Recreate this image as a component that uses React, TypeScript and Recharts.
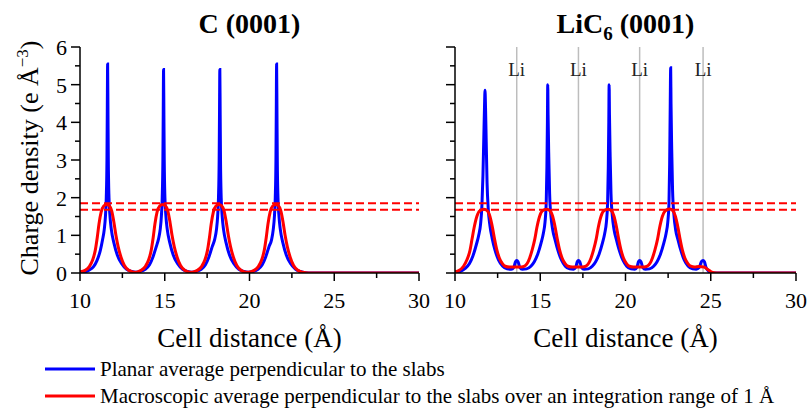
import React from "react";
import { LineChart, Line, XAxis, YAxis, ReferenceLine } from "recharts";

const FONT = '"Liberation Serif", "Times New Roman", serif';

// axis ticks (majors get labels, the rest are minor ticks)
const xTicks = [10, 12.5, 15, 17.5, 20, 22.5, 25, 27.5, 30];
const yTicks = [0, 0.5, 1, 1.5, 2, 2.5, 3, 3.5, 4, 4.5, 5, 5.5, 6];

// reference levels and Li plane positions
const dashedLevels = [1.85, 1.68];
const liPositions = [13.62, 17.24, 20.83, 24.55];

// C (0001): planar average [x, density]
const graphitePlanar: [number, number][] = [
  [10.0, 0.01], [10.3, 0.03], [10.55, 0.08], [10.8, 0.17], [11.0, 0.33], [11.2, 0.6],
  [11.33, 0.88], [11.43, 1.15], [11.5, 1.5], [11.55, 2.0], [11.59, 3.0], [11.61, 4.3],
  [11.63, 5.55], [11.65, 4.3], [11.67, 3.0], [11.71, 2.0], [11.77, 1.5], [11.85, 1.15],
  [12.0, 0.8], [12.2, 0.48], [12.45, 0.25], [12.75, 0.1], [13.05, 0.04], [13.3, 0.02],
  [13.55, 0.04], [13.85, 0.1], [14.1, 0.22], [14.3, 0.42], [14.5, 0.7], [14.63, 0.9],
  [14.73, 1.15], [14.8, 1.5], [14.85, 2.0], [14.89, 3.0], [14.91, 4.2], [14.93, 5.4],
  [14.95, 4.2], [14.97, 3.0], [15.01, 2.0], [15.07, 1.5], [15.15, 1.15], [15.3, 0.8],
  [15.5, 0.48], [15.75, 0.25], [16.05, 0.1], [16.35, 0.04], [16.6, 0.02],
  [16.85, 0.04], [17.15, 0.1], [17.4, 0.22], [17.6, 0.42], [17.8, 0.7], [17.95, 0.9],
  [18.05, 1.15], [18.12, 1.5], [18.17, 2.0], [18.21, 3.0], [18.23, 4.2], [18.25, 5.4],
  [18.27, 4.2], [18.29, 3.0], [18.33, 2.0], [18.39, 1.5], [18.47, 1.15], [18.62, 0.8],
  [18.82, 0.48], [19.07, 0.25], [19.37, 0.1], [19.67, 0.04], [19.92, 0.02],
  [20.2, 0.04], [20.5, 0.1], [20.75, 0.22], [20.95, 0.42], [21.15, 0.7], [21.3, 0.88],
  [21.4, 1.15], [21.47, 1.5], [21.52, 2.0], [21.56, 3.0], [21.58, 4.3], [21.6, 5.55],
  [21.62, 4.3], [21.64, 3.0], [21.68, 2.0], [21.74, 1.5], [21.82, 1.15], [21.97, 0.8],
  [22.17, 0.48], [22.42, 0.25], [22.72, 0.1], [23.0, 0.04], [23.3, 0.01], [23.7, 0], [30, 0],
];

// C (0001): macroscopic average
const graphiteMacro: [number, number][] = [
  [10.0, 0.03], [10.3, 0.07], [10.55, 0.17], [10.75, 0.35], [10.9, 0.6], [11.02, 0.95],
  [11.12, 1.3], [11.25, 1.62], [11.4, 1.78], [11.57, 1.82], [11.72, 1.79], [11.87, 1.65],
  [12.0, 1.35], [12.12, 1.0], [12.25, 0.7], [12.42, 0.42], [12.62, 0.2], [12.85, 0.08],
  [13.1, 0.03], [13.25, 0.02], [13.4, 0.03],
  [13.6, 0.07], [13.85, 0.17], [14.05, 0.35], [14.2, 0.6], [14.32, 0.95], [14.42, 1.3],
  [14.55, 1.62], [14.7, 1.78], [14.88, 1.82], [15.03, 1.79], [15.18, 1.65], [15.31, 1.35],
  [15.43, 1.0], [15.56, 0.7], [15.73, 0.42], [15.93, 0.2], [16.16, 0.08], [16.4, 0.03],
  [16.55, 0.02], [16.7, 0.03],
  [16.92, 0.07], [17.17, 0.17], [17.37, 0.35], [17.52, 0.6], [17.64, 0.95], [17.74, 1.3],
  [17.87, 1.62], [18.02, 1.78], [18.2, 1.82], [18.35, 1.79], [18.5, 1.65], [18.63, 1.35],
  [18.75, 1.0], [18.88, 0.7], [19.05, 0.42], [19.25, 0.2], [19.48, 0.08], [19.72, 0.03],
  [19.88, 0.02], [20.05, 0.03],
  [20.27, 0.07], [20.52, 0.17], [20.72, 0.35], [20.87, 0.6], [20.99, 0.95], [21.09, 1.3],
  [21.22, 1.62], [21.37, 1.78], [21.55, 1.82], [21.7, 1.79], [21.85, 1.65], [21.98, 1.35],
  [22.1, 1.0], [22.23, 0.7], [22.4, 0.42], [22.6, 0.2], [22.83, 0.08], [23.05, 0.03],
  [23.3, 0.01], [23.6, 0], [30, 0],
];

// LiC6 (0001): planar average
const licPlanar: [number, number][] = [
  [10.0, 0.01], [10.3, 0.04], [10.6, 0.12], [10.85, 0.25], [11.05, 0.45], [11.25, 0.75],
  [11.4, 1.02], [11.5, 1.3], [11.58, 1.8], [11.64, 2.6], [11.69, 3.6], [11.73, 4.4],
  [11.76, 4.85], [11.79, 4.4], [11.83, 3.5], [11.88, 2.4], [11.95, 1.7], [12.05, 1.25],
  [12.18, 0.92], [12.35, 0.6], [12.55, 0.35], [12.8, 0.18], [13.05, 0.11], [13.3, 0.1],
  [13.45, 0.15], [13.55, 0.3], [13.62, 0.33], [13.7, 0.3], [13.8, 0.15], [13.95, 0.1],
  [14.2, 0.11],
  [14.45, 0.18], [14.65, 0.3], [14.85, 0.5], [15.05, 0.8], [15.18, 1.05], [15.28, 1.35],
  [15.35, 1.85], [15.39, 2.8], [15.42, 4.0], [15.44, 5.0], [15.46, 4.2], [15.5, 3.1],
  [15.55, 2.1], [15.63, 1.5], [15.73, 1.15], [15.87, 0.88], [16.05, 0.58], [16.25, 0.34],
  [16.47, 0.18], [16.72, 0.11], [16.95, 0.1], [17.08, 0.15], [17.17, 0.3], [17.24, 0.33],
  [17.32, 0.3], [17.42, 0.15], [17.57, 0.1], [17.82, 0.11],
  [18.05, 0.18], [18.25, 0.3], [18.45, 0.5], [18.65, 0.8], [18.78, 1.05], [18.88, 1.35],
  [18.95, 1.85], [18.99, 2.8], [19.02, 4.0], [19.04, 5.0], [19.06, 4.2], [19.1, 3.1],
  [19.15, 2.1], [19.23, 1.5], [19.33, 1.15], [19.47, 0.88], [19.65, 0.58], [19.85, 0.34],
  [20.07, 0.18], [20.32, 0.11], [20.55, 0.1], [20.67, 0.15], [20.76, 0.3], [20.83, 0.33],
  [20.91, 0.3], [21.01, 0.15], [21.16, 0.1], [21.41, 0.11],
  [21.65, 0.18], [21.85, 0.3], [22.05, 0.5], [22.25, 0.8], [22.38, 1.05], [22.48, 1.35],
  [22.55, 1.85], [22.59, 2.9], [22.62, 4.3], [22.65, 5.45], [22.67, 4.5], [22.71, 3.3],
  [22.76, 2.2], [22.84, 1.55], [22.94, 1.15], [23.08, 0.88], [23.26, 0.58], [23.45, 0.34],
  [23.68, 0.18], [23.93, 0.11], [24.15, 0.1], [24.33, 0.15], [24.45, 0.3], [24.55, 0.33],
  [24.63, 0.3], [24.72, 0.15], [24.85, 0.06], [25.0, 0.01], [25.3, 0], [30, 0],
];

// LiC6 (0001): macroscopic average
const licMacro: [number, number][] = [
  [10.0, 0.03], [10.25, 0.07], [10.5, 0.18], [10.7, 0.35], [10.88, 0.6], [11.0, 0.9],
  [11.12, 1.2], [11.28, 1.5], [11.45, 1.65], [11.7, 1.69], [11.9, 1.65], [12.05, 1.5],
  [12.2, 1.2], [12.32, 0.9], [12.45, 0.62], [12.6, 0.4], [12.78, 0.25], [12.95, 0.18],
  [13.2, 0.16], [13.6, 0.16],
  [13.88, 0.16], [14.08, 0.18], [14.23, 0.25], [14.38, 0.4], [14.53, 0.62], [14.68, 0.9],
  [14.8, 1.2], [14.96, 1.5], [15.13, 1.65], [15.38, 1.69], [15.58, 1.65], [15.73, 1.5],
  [15.88, 1.2], [16.0, 0.9], [16.13, 0.62], [16.28, 0.4], [16.46, 0.25], [16.63, 0.18],
  [16.88, 0.16], [17.2, 0.16],
  [17.48, 0.16], [17.68, 0.18], [17.83, 0.25], [17.98, 0.4], [18.13, 0.62], [18.28, 0.9],
  [18.4, 1.2], [18.56, 1.5], [18.73, 1.65], [18.98, 1.69], [19.18, 1.65], [19.33, 1.5],
  [19.48, 1.2], [19.6, 0.9], [19.73, 0.62], [19.88, 0.4], [20.06, 0.25], [20.23, 0.18],
  [20.48, 0.16], [20.8, 0.16],
  [21.08, 0.16], [21.28, 0.18], [21.43, 0.25], [21.58, 0.4], [21.73, 0.62], [21.88, 0.9],
  [22.0, 1.2], [22.16, 1.5], [22.33, 1.65], [22.58, 1.7], [22.78, 1.65], [22.93, 1.5],
  [23.08, 1.2], [23.2, 0.9], [23.33, 0.62], [23.48, 0.4], [23.66, 0.25], [23.83, 0.18],
  [24.05, 0.16], [24.3, 0.17], [24.6, 0.16], [24.8, 0.1], [25.0, 0.04], [25.2, 0.01],
  [25.5, 0], [30, 0],
];

const toPoints = (pairs: [number, number][]) => pairs.map(([x, y]) => ({ x, y }));

const isMajorX = (v: number) => v % 5 === 0;
const isMajorY = (v: number) => Number.isInteger(v);

const BottomTick = (props: any) => {
  const { x, y, payload } = props;
  const major = isMajorX(payload.value);
  return (
    <g>
      <line x1={x} x2={x} y1={y} y2={y + (major ? 8 : 5)} stroke="#000" strokeWidth={1.5} />
      {major && (
        <text x={x} y={y + 35} textAnchor="middle" fontSize={22} fontFamily={FONT} fill="#000">
          {payload.value}
        </text>
      )}
    </g>
  );
};

const TopTick = (props: any) => {
  const { x, y, payload } = props;
  const major = isMajorX(payload.value);
  return <line x1={x} x2={x} y1={y} y2={y + (major ? 8 : 5)} stroke="#000" strokeWidth={1.5} />;
};

const LeftTick = (props: any) => {
  const { x, y, payload, showLabel } = props;
  const major = isMajorY(payload.value);
  return (
    <g>
      <line x1={x - (major ? 9 : 5)} x2={x} y1={y} y2={y} stroke="#000" strokeWidth={1.5} />
      {major && showLabel && (
        <text x={x - 13} y={y + 8} textAnchor="end" fontSize={22} fontFamily={FONT} fill="#000">
          {payload.value}
        </text>
      )}
    </g>
  );
};

const RightTick = (props: any) => {
  const { x, y, payload } = props;
  const major = isMajorY(payload.value);
  return <line x1={x - (major ? 8 : 5)} x2={x} y1={y} y2={y} stroke="#000" strokeWidth={1.5} />;
};

const XTitle = (props: any) => {
  const vb = props.viewBox || {};
  const cx = (vb.x ?? 0) + (vb.width ?? 0) / 2;
  const top = vb.y ?? 273;
  return (
    <text x={cx} y={top + 74} textAnchor="middle" fontSize={27} fontFamily={FONT} fill="#000">
      Cell distance (Å)
    </text>
  );
};

const YTitle = () => (
  <text transform="translate(38,158) rotate(-90)" textAnchor="middle" fontSize={26} fontFamily={FONT} fill="#000">
    Charge density (e Å
    <tspan dy={-10} fontSize={17}>−3</tspan>
    <tspan dy={10}>)</tspan>
  </text>
);

const LiLabel = (props: any) => {
  const vb = props.viewBox || {};
  return (
    <text x={vb.x} y={76} textAnchor="middle" fontSize={19} fontFamily={FONT} fill="#222">
      Li
    </text>
  );
};

const axisLine = { stroke: "#000", strokeWidth: 1.5 };

interface PanelProps {
  planar: [number, number][];
  macro: [number, number][];
  left: number;
  width: number;
  yAxisWidth: number;
  showYLabels: boolean;
  showLi: boolean;
}

const Panel = ({ planar, macro, left, width, yAxisWidth, showYLabels, showLi }: PanelProps) => (
  <div style={{ position: "absolute", left, top: 0 }}>
    <LineChart width={width} height={360} margin={{ top: 47, right: 11, bottom: 0, left: 0 }}>
      <XAxis
        xAxisId="b"
        type="number"
        dataKey="x"
        domain={[10, 30]}
        ticks={xTicks}
        interval={0}
        allowDataOverflow
        height={87}
        axisLine={axisLine}
        tickLine={false}
        tickSize={0}
        tickMargin={0}
        tick={<BottomTick />}
        label={<XTitle />}
      />
      <XAxis
        xAxisId="t"
        orientation="top"
        type="number"
        dataKey="x"
        domain={[10, 30]}
        ticks={xTicks}
        interval={0}
        allowDataOverflow
        height={0}
        axisLine={axisLine}
        tickLine={false}
        tickSize={0}
        tickMargin={0}
        tick={<TopTick />}
      />
      <YAxis
        yAxisId="l"
        type="number"
        domain={[0, 6]}
        ticks={yTicks}
        interval={0}
        allowDataOverflow
        width={yAxisWidth}
        axisLine={axisLine}
        tickLine={false}
        tickSize={0}
        tickMargin={0}
        tick={(p: any) => <LeftTick {...p} showLabel={showYLabels} />}
        label={showYLabels ? <YTitle /> : undefined}
      />
      <YAxis
        yAxisId="r"
        orientation="right"
        type="number"
        domain={[0, 6]}
        ticks={yTicks}
        interval={0}
        allowDataOverflow
        width={0}
        axisLine={axisLine}
        tickLine={false}
        tickSize={0}
        tickMargin={0}
        tick={<RightTick />}
      />
      {showLi &&
        liPositions.map((x) => (
          <ReferenceLine
            key={`li-${x}`}
            x={x}
            xAxisId="b"
            yAxisId="l"
            stroke="#bdbdbd"
            strokeWidth={1.5}
            label={<LiLabel />}
          />
        ))}
      <Line
        data={toPoints(planar)}
        xAxisId="b"
        yAxisId="l"
        dataKey="y"
        type="monotone"
        stroke="#0000ff"
        strokeWidth={3}
        dot={false}
        isAnimationActive={false}
      />
      <Line
        data={toPoints(macro)}
        xAxisId="b"
        yAxisId="l"
        dataKey="y"
        type="monotone"
        stroke="#ff0000"
        strokeWidth={3}
        dot={false}
        isAnimationActive={false}
      />
      {dashedLevels.map((y) => (
        <ReferenceLine
          key={`lvl-${y}`}
          y={y}
          xAxisId="b"
          yAxisId="l"
          stroke="#ff0000"
          strokeWidth={2}
          strokeDasharray="8 4"
        />
      ))}
    </LineChart>
  </div>
);

export default function App() {
  return (
    <div
      style={{
        position: "absolute",
        left: 0,
        top: 0,
        width: 810,
        height: 409,
        background: "#fff",
        fontFamily: FONT,
        overflow: "hidden",
      }}
    >
      <Panel planar={graphitePlanar} macro={graphiteMacro} left={0} width={430} yAxisWidth={80} showYLabels showLi={false} />
      <Panel planar={licPlanar} macro={licMacro} left={410} width={397} yAxisWidth={45} showYLabels={false} showLi />
      <svg width={810} height={409} style={{ position: "absolute", left: 0, top: 0, pointerEvents: "none" }}>
        <text x={249.5} y={33} textAnchor="middle" fontSize={28} fontWeight="bold" fontFamily={FONT} fill="#000">
          C (0001)
        </text>
        <text x={625.5} y={33} textAnchor="middle" fontSize={28} fontWeight="bold" fontFamily={FONT} fill="#000">
          LiC
          <tspan dy={7} fontSize={19}>6</tspan>
          <tspan dy={-7}> (0001)</tspan>
        </text>
        <line x1={45} x2={95} y1={369} y2={369} stroke="#0000ff" strokeWidth={3} />
        <text x={100} y={376} fontSize={21} fontFamily={FONT} fill="#000">
          Planar average perpendicular to the slabs
        </text>
        <line x1={45} x2={95} y1={396} y2={396} stroke="#ff0000" strokeWidth={3} />
        <text x={100} y={403} fontSize={21} fontFamily={FONT} fill="#000">
          Macroscopic average perpendicular to the slabs over an integration range of 1 Å
        </text>
      </svg>
    </div>
  );
}
